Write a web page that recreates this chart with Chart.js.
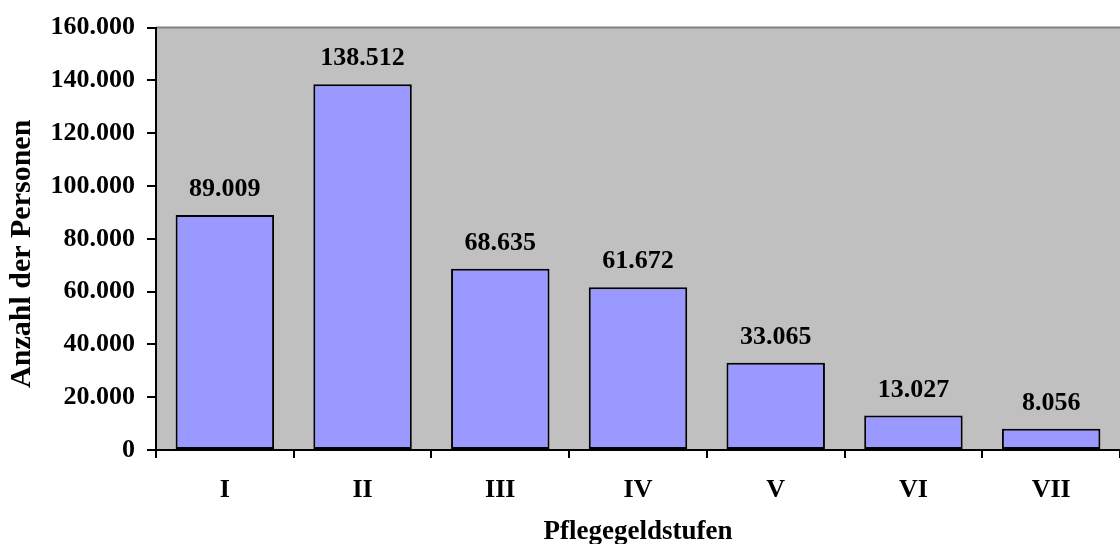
<!DOCTYPE html>
<html>
<head>
<meta charset="utf-8">
<script src="https://cdn.jsdelivr.net/npm/chart.js@4.4.0/dist/chart.umd.min.js"></script>
<style>
  html, body { margin: 0; padding: 0; background: #fff; }
  #wrap { width: 1120px; height: 544px; }
</style>
</head>
<body>
<div id="wrap"><canvas id="c" width="1120" height="544"></canvas></div>
<script>
// Pflegegeldbezieher nach Stufen
const stufen = ['I', 'II', 'III', 'IV', 'V', 'VI', 'VII'];
const personen = [89009, 138512, 68635, 61672, 33065, 13027, 8056];
const yTicks = [0, 20000, 40000, 60000, 80000, 100000, 120000, 140000, 160000];

const FONT = '"Liberation Serif", "Times New Roman", serif';

function fmt(n) {
  return String(Math.round(n)).replace(/\B(?=(\d{3})+(?!\d))/g, '.');
}

// gray plot background with a thin top border
const plotBackground = {
  id: 'plotBackground',
  beforeDraw(chart) {
    const { ctx, chartArea: a } = chart;
    ctx.save();
    ctx.fillStyle = '#C0C0C0';
    ctx.fillRect(a.left, a.top, a.right - a.left, a.bottom - a.top);
    ctx.strokeStyle = '#808080';
    ctx.lineWidth = 2;
    ctx.beginPath();
    ctx.moveTo(a.left, a.top);
    ctx.lineTo(a.right, a.top);
    ctx.stroke();
    ctx.restore();
  }
};

// value labels above each bar
const valueLabels = {
  id: 'valueLabels',
  afterDatasetsDraw(chart) {
    const { ctx } = chart;
    const meta = chart.getDatasetMeta(0);
    ctx.save();
    ctx.font = 'bold 26px ' + FONT;
    ctx.fillStyle = '#000';
    ctx.textAlign = 'center';
    ctx.textBaseline = 'alphabetic';
    meta.data.forEach((bar, i) => {
      ctx.fillText(fmt(personen[i]), bar.x, bar.y - 19);
    });
    ctx.restore();
  }
};

new Chart(document.getElementById('c'), {
  type: 'bar',
  data: {
    labels: stufen,
    datasets: [{
      data: personen,
      backgroundColor: '#9999FF',
      borderColor: '#000000',
      borderWidth: 2,
      borderSkipped: false,
      barPercentage: 0.715,
      categoryPercentage: 1.0
    }]
  },
  options: {
    responsive: false,
    animation: false,
    layout: { padding: { top: 24, right: 0, left: 0, bottom: 0 } },
    plugins: {
      legend: { display: false },
      tooltip: { enabled: false }
    },
    scales: {
      x: {
        afterFit(scale) { scale.height = 94; },
        grid: {
          offset: true,
          drawOnChartArea: false,
          drawTicks: true,
          tickLength: 8,
          color: '#000',
          lineWidth: 2
        },
        border: { display: true, color: '#000', width: 2 },
        ticks: {
          color: '#000',
          padding: 17,
          font: { family: FONT, size: 26, weight: 'bold' },
          maxRotation: 0
        },
        title: {
          display: true,
          text: 'Pflegegeldstufen',
          color: '#000',
          font: { family: FONT, size: 27, weight: 'bold', lineHeight: 0.9 },
          padding: { top: 0, bottom: 0 }
        }
      },
      y: {
        min: 0,
        max: 160000,
        afterFit(scale) { scale.width = 156; },
        afterBuildTicks(scale) {
          scale.ticks = yTicks.map(v => ({ value: v }));
        },
        grid: {
          drawOnChartArea: false,
          drawTicks: true,
          tickLength: 9,
          color: '#000',
          lineWidth: 2
        },
        border: { display: true, color: '#000', width: 2 },
        ticks: {
          color: '#000',
          padding: 12,
          font: { family: FONT, size: 26, weight: 'bold' },
          callback: (v) => fmt(v)
        },
        title: {
          display: true,
          text: 'Anzahl der Personen    ',
          color: '#000',
          font: { family: FONT, size: 30, weight: 'bold' },
          padding: { top: 4, bottom: 0 }
        }
      }
    }
  },
  plugins: [plotBackground, valueLabels]
});
</script>
</body>
</html>
